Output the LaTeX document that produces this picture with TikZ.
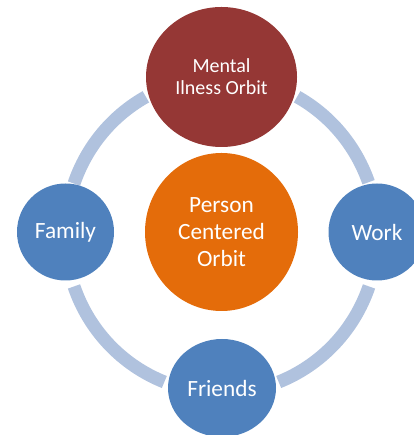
\documentclass[tikz,border=0pt]{standalone}
\usepackage{fontspec}
\setmainfont{Carlito}
\usetikzlibrary{shapes.geometric}
\definecolor{orbitred}{HTML}{953735}
\definecolor{orbitorange}{HTML}{E46C0A}
\definecolor{orbitblue}{HTML}{4F81BD}
\definecolor{orbitring}{HTML}{B0C2DE}

\begin{document}
\begin{tikzpicture}[x=1pt,y=1pt,
		bubble/.style={ellipse,fill=orbitblue,text=white,inner sep=0pt,align=center,font=\fontsize{23.3}{27}\selectfont},
		ring/.style={draw=orbitring,line width=13pt}]
		\useasboundingbox (0,0) rectangle (413,435);
		\coordinate (orbit) at (221.5,200);
		
		% ring pieces between the bubbles
		\foreach \a/\b in {19.5/61,119/161,199/248.5,291.5/341}
			\draw[ring] ([shift={(\a:156 and 158)}]orbit) arc[start angle=\a,end angle=\b,x radius=156,y radius=158];
		
		\node[bubble,fill=orbitorange,minimum width=153,minimum height=158] (hub) at (221.5,203) {Person\\Centered\\Orbit};
		\node[bubble,fill=orbitred,minimum width=151,minimum height=140,font=\fontsize{20}{22}\selectfont] (mental) at (221.5,358) {Mental\\Ilness Orbit};
		\node[bubble,minimum width=97,minimum height=97] (family) at (65.5,203) {Family};
		\node[bubble,minimum width=97,minimum height=97] (work) at (377,203) {Work};
		\node[bubble,minimum width=108,minimum height=98] (friends) at (222,47) {Friends};
	\end{tikzpicture}
\end{document}
